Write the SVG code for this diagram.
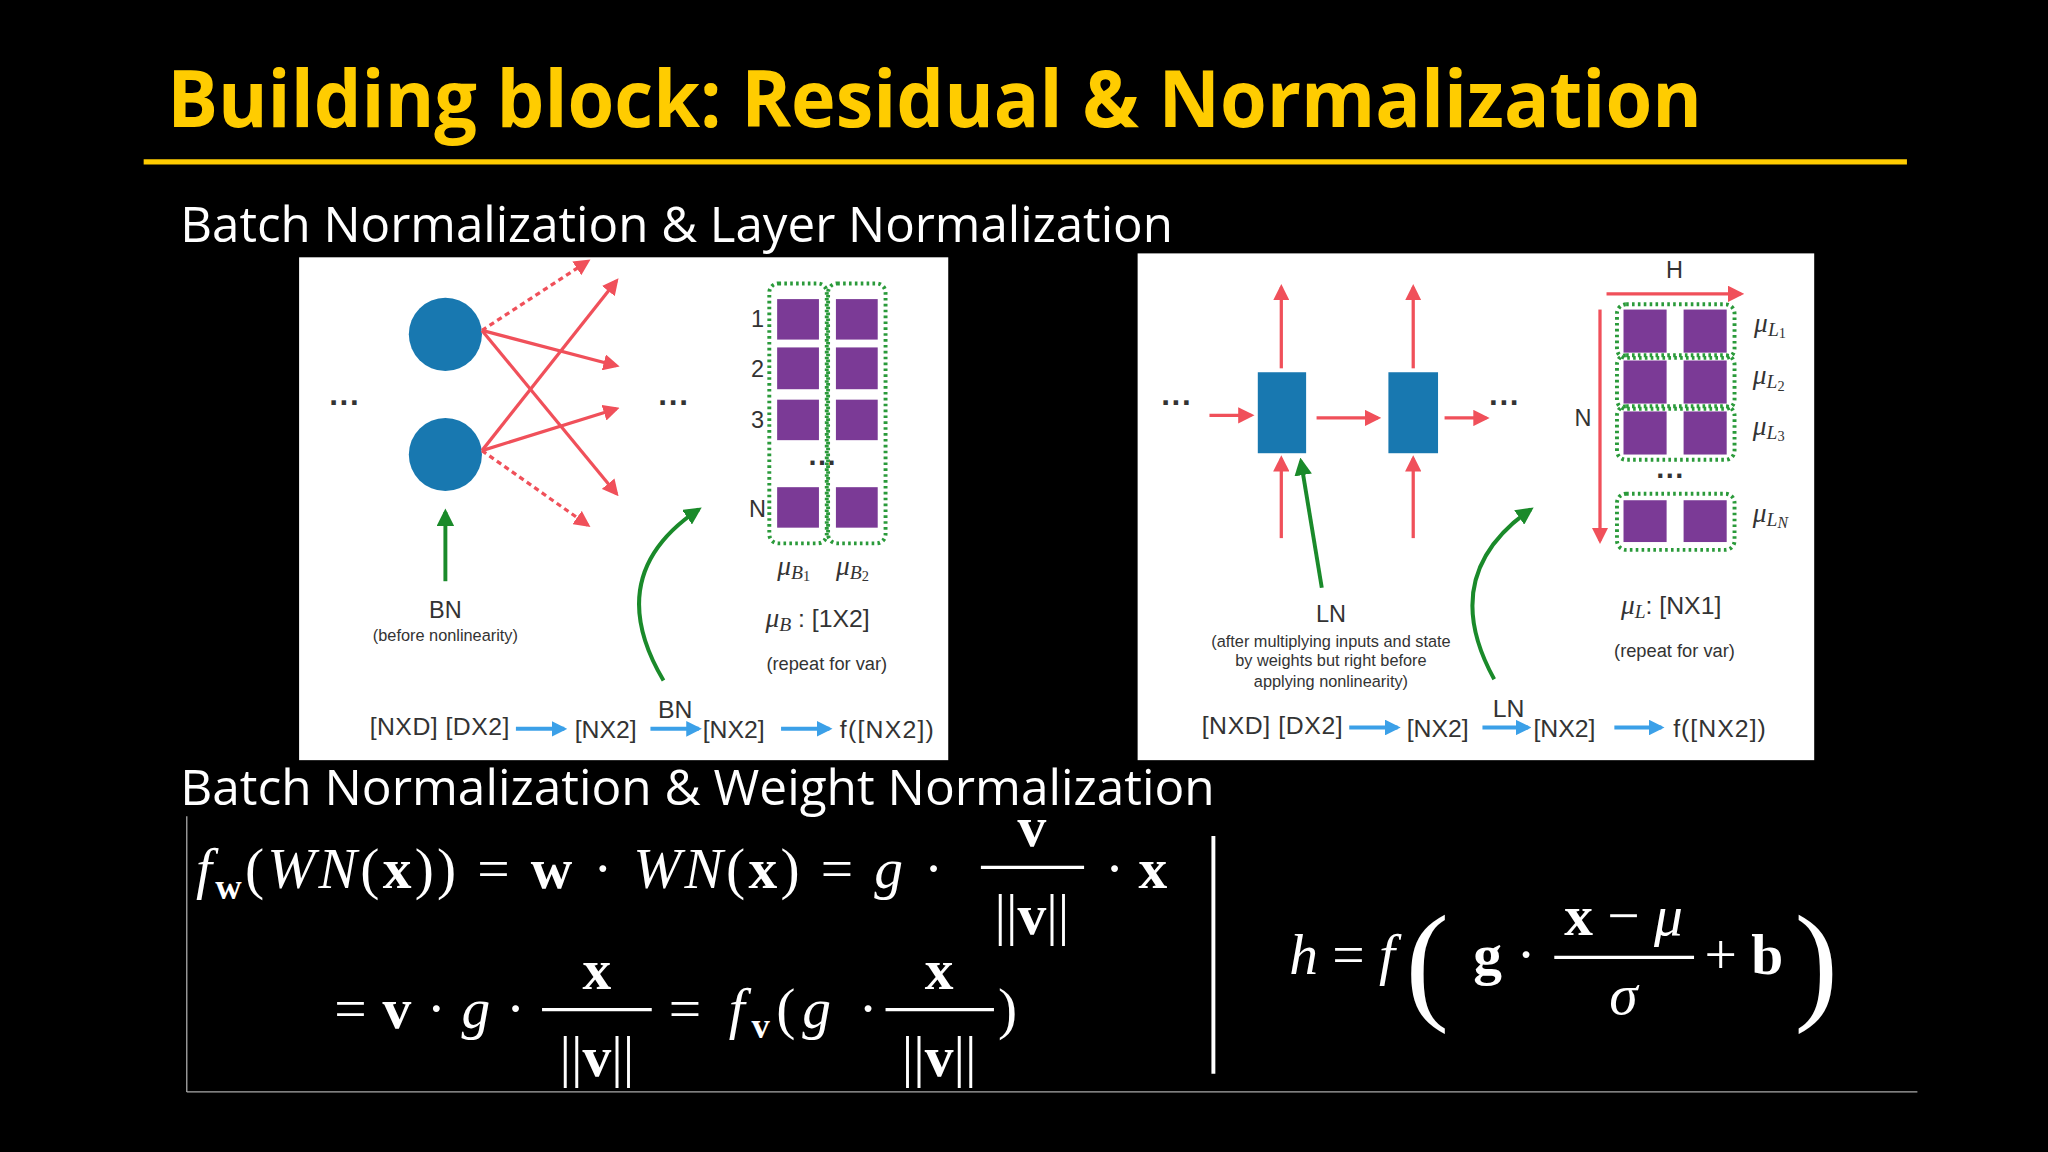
<svg xmlns="http://www.w3.org/2000/svg" width="2048" height="1152" viewBox="0 0 2048 1152">
<defs>
<style>
.p{font-family:"Liberation Sans",Arial,sans-serif;fill:#333}
.m{font-family:"Liberation Serif","DejaVu Serif",serif;fill:#fff}
.mi{font-style:italic}
.b{font-weight:bold}
.red{stroke:#f0505a;stroke-width:2.5;fill:none}
.blue{stroke:#3ba0e8;stroke-width:3;fill:none}
.grn{stroke:#1a8a2a;stroke-width:3;fill:none}
.sq{fill:#7b3a96}
.dot{fill:none;stroke:#2a9a3a;stroke-width:3;stroke-dasharray:2 2.5}
.node{fill:#1878b0}
</style>
<marker id="ar" viewBox="0 0 10 10" refX="8" refY="5" markerWidth="5" markerHeight="5" orient="auto"><path d="M0,0L10,5L0,10z" fill="#f0505a"/></marker>
<marker id="ab" viewBox="0 0 10 10" refX="8" refY="5" markerWidth="4" markerHeight="4" orient="auto"><path d="M0,0L10,5L0,10z" fill="#3ba0e8"/></marker>
<marker id="ag" viewBox="0 0 10 10" refX="8" refY="5" markerWidth="4.5" markerHeight="4.5" orient="auto"><path d="M0,0L10,5L0,10z" fill="#1a8a2a"/></marker>
</defs>
<rect width="2048" height="1152" fill="#000"/>
<g transform="scale(1.30612)">
<g id="title">
<text x="128" y="97" font-family="'Open Sans',sans-serif" font-weight="bold" font-size="60" fill="#ffcc00" textLength="1175" lengthAdjust="spacingAndGlyphs">Building block: Residual &amp; Normalization</text>
<line x1="110" y1="124" x2="1460" y2="124" stroke="#ffcc00" stroke-width="4"/>
</g>
<text id="sub1" x="138" y="185" font-family="'Open Sans',sans-serif" font-size="38" fill="#fff" textLength="760" lengthAdjust="spacingAndGlyphs">Batch Normalization &amp; Layer Normalization</text>
<text id="sub2" x="138" y="616" font-family="'Open Sans',sans-serif" font-size="38" fill="#fff" textLength="792" lengthAdjust="spacingAndGlyphs">Batch Normalization &amp; Weight Normalization</text>

<g id="bnpanel">
<rect x="229" y="197" width="497" height="385" fill="#fff"/>
<text class="p b" x="252" y="316" font-size="24">···</text>
<text class="p b" x="504" y="316" font-size="24">···</text>
<circle class="node" cx="341" cy="256" r="28"/>
<circle class="node" cx="341" cy="348" r="28"/>
<g>
<line class="red" x1="369" y1="253" x2="450" y2="200" stroke-dasharray="4 3" stroke-width="1.5" marker-end="url(#ar)"/>
<line class="red" x1="369" y1="253" x2="472" y2="280" marker-end="url(#ar)"/>
<line class="red" x1="369" y1="253" x2="472" y2="378" marker-end="url(#ar)"/>
<line class="red" x1="369" y1="345" x2="472" y2="215" marker-end="url(#ar)"/>
<line class="red" x1="369" y1="345" x2="472" y2="313" marker-end="url(#ar)"/>
<line class="red" x1="369" y1="345" x2="450" y2="402" stroke-dasharray="4 3" stroke-width="1.5" marker-end="url(#ar)"/>
<line class="grn" x1="341" y1="445" x2="341" y2="392" marker-end="url(#ag)"/>
<path class="grn" d="M508,521 Q460,440 535,390" marker-end="url(#ag)"/>
</g>
<text class="p" x="341" y="473" font-size="18" text-anchor="middle">BN</text>
<text class="p" x="341" y="491" font-size="12.5" fill="#555" text-anchor="middle">(before nonlinearity)</text>
<g font-size="18" class="p" text-anchor="middle">
<text x="580" y="250">1</text><text x="580" y="289">2</text><text x="580" y="328">3</text><text x="580" y="396">N</text>
</g>
<rect class="sq" x="595" y="229" width="32" height="31"/><rect class="sq" x="640" y="229" width="32" height="31"/>
<rect class="sq" x="595" y="266" width="32" height="32"/><rect class="sq" x="640" y="266" width="32" height="32"/>
<rect class="sq" x="595" y="306" width="32" height="31"/><rect class="sq" x="640" y="306" width="32" height="31"/>
<rect class="sq" x="595" y="373" width="32" height="31"/><rect class="sq" x="640" y="373" width="32" height="31"/>
<text class="p b" x="619" y="362" font-size="22">···</text>
<rect class="dot" x="589" y="217" width="44" height="199" rx="7"/>
<rect class="dot" x="634" y="217" width="44" height="199" rx="7"/>
<g font-family="'Liberation Serif',serif" font-style="italic" font-size="21" fill="#333">
<text x="595" y="440">μ<tspan font-size="15" dy="3">B</tspan><tspan font-size="11" dy="2" font-style="normal">1</tspan></text>
<text x="640" y="440">μ<tspan font-size="15" dy="3">B</tspan><tspan font-size="11" dy="2" font-style="normal">2</tspan></text>
</g>
<text x="586" y="480" font-size="19" class="p"><tspan font-family="'Liberation Serif',serif" font-style="italic" font-size="21">μ</tspan><tspan font-family="'Liberation Serif',serif" font-style="italic" font-size="15" dy="3">B</tspan><tspan dy="-3"> : [1X2]</tspan></text>
<text class="p" x="633" y="513" font-size="14" text-anchor="middle">(repeat for var)</text>
<g class="p" font-size="19">
<text x="283" y="563" textLength="107">[NXD] [DX2]</text>
<text x="440" y="565">[NX2]</text>
<text x="517" y="550" text-anchor="middle">BN</text>
<text x="538" y="565">[NX2]</text>
<text x="643" y="565" textLength="72">f([NX2])</text>
</g>
<line class="blue" x1="395" y1="558" x2="432" y2="558" marker-end="url(#ab)"/>
<line class="blue" x1="498" y1="558" x2="535" y2="558" marker-end="url(#ab)"/>
<line class="blue" x1="598" y1="558" x2="635" y2="558" marker-end="url(#ab)"/>
</g>

<g id="lnpanel">
<rect x="871" y="194" width="518" height="388" fill="#fff"/>
<text class="p b" x="889" y="316" font-size="24">···</text>
<text class="p b" x="1140" y="316" font-size="24">···</text>
<rect class="node" x="963" y="285" width="37" height="62"/>
<rect class="node" x="1063" y="285" width="38" height="62"/>
<line class="red" x1="926" y1="318" x2="958" y2="318" marker-end="url(#ar)"/>
<line class="red" x1="1008" y1="320" x2="1055" y2="320" marker-end="url(#ar)"/>
<line class="red" x1="1106" y1="320" x2="1138" y2="320" marker-end="url(#ar)"/>
<line class="red" x1="981" y1="282" x2="981" y2="220" marker-end="url(#ar)"/>
<line class="red" x1="1082" y1="282" x2="1082" y2="220" marker-end="url(#ar)"/>
<line class="red" x1="981" y1="412" x2="981" y2="351" marker-end="url(#ar)"/>
<line class="red" x1="1082" y1="412" x2="1082" y2="351" marker-end="url(#ar)"/>
<line class="grn" x1="1012" y1="450" x2="996" y2="353" marker-end="url(#ag)"/>
<path class="grn" d="M1144,520 Q1100,440 1172,390" marker-end="url(#ag)"/>
<text class="p" x="1019" y="476" font-size="18" text-anchor="middle">LN</text>
<g class="p" font-size="12.5" fill="#555" text-anchor="middle">
<text x="1019" y="495">(after multiplying inputs and state</text>
<text x="1019" y="510">by weights but right before</text>
<text x="1019" y="526">applying nonlinearity)</text>
</g>
<text class="p" x="1282" y="213" font-size="18" text-anchor="middle">H</text>
<line class="red" x1="1230" y1="225" x2="1333" y2="225" stroke-width="3" marker-end="url(#ar)"/>
<text class="p" x="1212" y="326" font-size="18" text-anchor="middle">N</text>
<line class="red" x1="1225" y1="237" x2="1225" y2="414" marker-end="url(#ar)"/>
<rect class="sq" x="1243" y="237" width="33" height="33"/><rect class="sq" x="1289" y="237" width="33" height="33"/>
<rect class="sq" x="1243" y="276" width="33" height="33"/><rect class="sq" x="1289" y="276" width="33" height="33"/>
<rect class="sq" x="1243" y="315" width="33" height="33"/><rect class="sq" x="1289" y="315" width="33" height="33"/>
<rect class="sq" x="1243" y="383" width="33" height="32"/><rect class="sq" x="1289" y="383" width="33" height="32"/>
<rect class="dot" x="1238" y="233" width="90" height="41" rx="7"/>
<rect class="dot" x="1238" y="272" width="90" height="41" rx="7"/>
<rect class="dot" x="1238" y="311" width="90" height="41" rx="7"/>
<rect class="dot" x="1238" y="378" width="90" height="43" rx="7"/>
<text class="p b" x="1268" y="372" font-size="22">···</text>
<g font-family="'Liberation Serif',serif" font-style="italic" font-size="21" fill="#333">
<text x="1343" y="254">μ<tspan font-size="15" dy="3">L</tspan><tspan font-size="11" dy="2" font-style="normal">1</tspan></text>
<text x="1342" y="294">μ<tspan font-size="15" dy="3">L</tspan><tspan font-size="11" dy="2" font-style="normal">2</tspan></text>
<text x="1342" y="333">μ<tspan font-size="15" dy="3">L</tspan><tspan font-size="11" dy="2" font-style="normal">3</tspan></text>
<text x="1342" y="400">μ<tspan font-size="15" dy="3">L</tspan><tspan font-size="12" dy="1">N</tspan></text>
</g>
<text x="1241" y="470" font-size="19" class="p"><tspan font-family="'Liberation Serif',serif" font-style="italic" font-size="21">μ</tspan><tspan font-family="'Liberation Serif',serif" font-style="italic" font-size="15" dy="3">L</tspan><tspan dy="-3">: [NX1]</tspan></text>
<text class="p" x="1282" y="503" font-size="14" text-anchor="middle">(repeat for var)</text>
<g class="p" font-size="19">
<text x="920" y="562" textLength="108">[NXD] [DX2]</text>
<text x="1077" y="564">[NX2]</text>
<text x="1155" y="549" text-anchor="middle">LN</text>
<text x="1174" y="564">[NX2]</text>
<text x="1281" y="564" textLength="71">f([NX2])</text>
</g>
<line class="blue" x1="1033" y1="557" x2="1070" y2="557" marker-end="url(#ab)"/>
<line class="blue" x1="1135" y1="557" x2="1170" y2="557" marker-end="url(#ab)"/>
<line class="blue" x1="1236" y1="557" x2="1272" y2="557" marker-end="url(#ab)"/>
</g>

<g id="formulas">
<line x1="143" y1="625" x2="143" y2="836" stroke="#aaa" stroke-width="1"/>
<line x1="143" y1="836" x2="1468" y2="836" stroke="#aaa" stroke-width="1"/>
<line x1="929" y1="640" x2="929" y2="822" stroke="#fff" stroke-width="3"/>
<g font-size="44">
<text class="m" x="150" y="680" textLength="572" lengthAdjust="spacing"><tspan class="mi">f</tspan><tspan class="b" font-size="28" dy="8">w</tspan><tspan dy="-8">(</tspan><tspan class="mi">WN</tspan>(<tspan class="b">x</tspan>)) = <tspan class="b">w</tspan> · <tspan class="mi">WN</tspan>(<tspan class="b">x</tspan>) = <tspan class="mi">g</tspan> ·</text>
<text class="m b" x="790" y="648" text-anchor="middle">v</text>
<line x1="751" y1="664" x2="830" y2="664" stroke="#fff" stroke-width="2.5"/>
<text class="m" x="790" y="715" text-anchor="middle">||<tspan class="b">v</tspan>||</text>
<text class="m" x="846" y="680">· <tspan class="b">x</tspan></text>

<text class="m" x="256" y="787" textLength="146" lengthAdjust="spacing">= <tspan class="b">v</tspan> · <tspan class="mi">g</tspan> ·</text>
<text class="m b" x="457" y="757" text-anchor="middle">x</text>
<line x1="415" y1="773" x2="499" y2="773" stroke="#fff" stroke-width="2.5"/>
<text class="m" x="457" y="824" text-anchor="middle">||<tspan class="b">v</tspan>||</text>
<text class="m" x="512" y="787" textLength="160" lengthAdjust="spacing">= <tspan class="mi">f</tspan><tspan class="b" font-size="28" dy="8">v</tspan><tspan dy="-8">(</tspan><tspan class="mi">g</tspan> ·</text>
<text class="m b" x="719" y="757" text-anchor="middle">x</text>
<line x1="678" y1="773" x2="761" y2="773" stroke="#fff" stroke-width="2.5"/>
<text class="m" x="719" y="824" text-anchor="middle">||<tspan class="b">v</tspan>||</text>
<text class="m" x="764" y="787">)</text>

<text class="m" x="987" y="746"><tspan class="mi">h</tspan> = <tspan class="mi">f</tspan></text>
<text class="m" x="1076" y="770" font-size="100" font-weight="lighter">(</text>
<text class="m" x="1128" y="746"><tspan class="b">g</tspan> ·</text>
<text class="m" x="1243" y="716" text-anchor="middle"><tspan class="b">x</tspan> − <tspan class="mi">μ</tspan></text>
<line x1="1190" y1="733" x2="1297" y2="733" stroke="#fff" stroke-width="2.5"/>
<text class="m mi" x="1243" y="776" text-anchor="middle">σ</text>
<text class="m" x="1305" y="746">+ <tspan class="b">b</tspan></text>
<text class="m" x="1374" y="770" font-size="100" font-weight="lighter">)</text>
</g>
</g>
</g>
</svg>
